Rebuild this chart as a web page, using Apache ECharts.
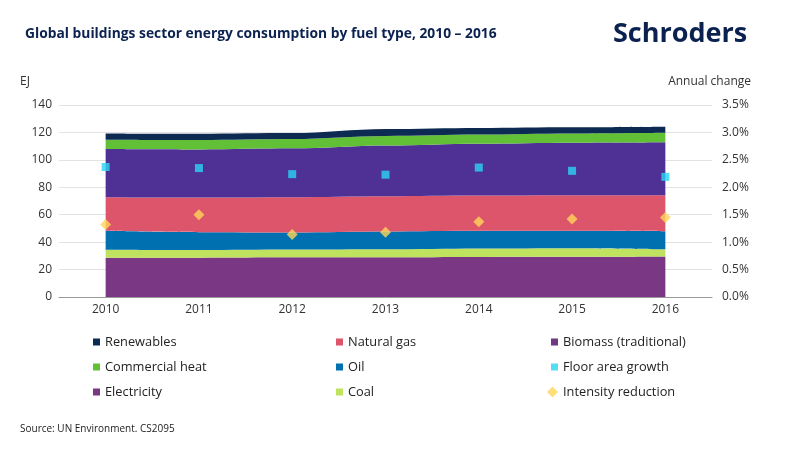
<!DOCTYPE html>
<html>
<head>
<meta charset="utf-8">
<title>Global buildings sector energy consumption</title>
<script src="https://cdn.jsdelivr.net/npm/echarts@6/dist/echarts.min.js"></script>
<style>
  html, body { margin: 0; padding: 0; background: #fff; }
  #main { width: 795px; height: 467px; }
</style>
</head>
<body>
<div id="main"></div>
<script>
// data (EJ, stacked bottom to top)
var years = ['2010', '2011', '2012', '2013', '2014', '2015', '2016'];
var electricity = [28.6, 28.7, 28.9, 29.0, 29.2, 29.3, 29.5];
var coal        = [5.8, 5.5, 5.7, 5.8, 6.2, 6.3, 5.3];
var oil         = [13.9, 13.1, 12.5, 13.0, 12.9, 12.7, 13.2];
var naturalGas  = [24.5, 25.2, 25.7, 25.7, 25.7, 25.9, 26.2];
var biomass     = [35.1, 35.1, 35.6, 37.0, 37.8, 38.3, 38.6];
var heat        = [6.8, 6.9, 6.8, 6.9, 6.6, 6.7, 6.9];
var renewables  = [4.6, 4.5, 4.3, 5.1, 4.9, 4.6, 4.5];
// annual change, %
var floorGrowth = [2.37, 2.35, 2.24, 2.23, 2.36, 2.30, 2.19];
var intensity   = [1.32, 1.50, 1.14, 1.18, 1.37, 1.42, 1.45];
var leftTicks = [0, 140, 20];
var rightTicks = [0, 3.5, 0.5];

var navy = '#0b2150';
var font = '"Open Sans", "Noto Sans", sans-serif';

function band(name, data, color, legendColor) {
  return {
    name: name,
    type: 'line',
    stack: 'fuel',
    data: data,
    smooth: 0.35,
    smoothMonotone: 'x',
    symbol: 'none',
    lineStyle: { width: 0 },
    itemStyle: { color: legendColor || color },
    areaStyle: { color: color, opacity: 1 },
    emphasis: { disabled: true }
  };
}

var legendText = { color: '#222', fontSize: 12.8, fontFamily: font, lineHeight: 14 };
function legendCol(left, top, names, w) {
  return {
    orient: 'vertical',
    left: left,
    top: top,
    itemWidth: w || 7,
    itemHeight: w || 7,
    itemGap: 11,
    selectedMode: false,
    textStyle: legendText,
    data: names
  };
}

var chart = echarts.init(document.getElementById('main'));
chart.setOption({
  animation: false,
  backgroundColor: '#fff',
  textStyle: { fontFamily: font },
  title: {
    text: 'Global buildings sector energy consumption by fuel type, 2010 \u2013 2016',
    left: 20,
    top: 22,
    textStyle: { color: navy, fontSize: 13.8, fontWeight: 'bold', fontFamily: font }
  },
  graphic: [
    { type: 'text', left: 613, top: 21, style: { text: 'Schroders', fill: navy, font: 'bold 27px ' + font } },
    { type: 'text', left: 20, top: 76, style: { text: 'EJ', fill: '#333', font: '12px ' + font } },
    { type: 'text', right: 44, top: 76, style: { text: 'Annual change', fill: '#333', font: '12px ' + font } },
    { type: 'text', left: 20, top: 424, style: { text: 'Source: UN Environment. CS2095', fill: '#222', font: '10px ' + font } }
  ],
  legend: [
    legendCol(88, 330, [
      { name: 'Renewables', icon: 'rect' },
      { name: 'Commercial heat', icon: 'rect' },
      { name: 'Electricity', icon: 'rect' }
    ]),
    legendCol(331, 330, [
      { name: 'Natural gas', icon: 'rect' },
      { name: 'Oil', icon: 'rect' },
      { name: 'Coal', icon: 'rect' }
    ]),
    legendCol(546, 330, [
      { name: 'Biomass (traditional)', icon: 'rect' },
      { name: 'Floor area growth', icon: 'rect' }
    ]),
    legendCol(542, 380, [
      { name: 'Intensity reduction', icon: 'diamond' }
    ], 11)
  ],
  grid: { left: 59, right: 83, top: 105, bottom: 170 },
  xAxis: {
    type: 'category',
    boundaryGap: true,
    data: years,
    axisTick: { show: false },
    axisLine: { lineStyle: { color: '#999' } },
    axisLabel: { color: '#333', fontSize: 12, margin: 7 }
  },
  yAxis: [
    {
      type: 'value',
      min: leftTicks[0], max: leftTicks[1], interval: leftTicks[2],
      axisLine: { show: false },
      axisTick: { show: false },
      axisLabel: { color: '#333', fontSize: 12, margin: 7 },
      splitLine: { lineStyle: { color: '#e2e2e2' } }
    },
    {
      type: 'value',
      min: rightTicks[0], max: rightTicks[1], interval: rightTicks[2],
      axisLine: { show: false },
      axisTick: { show: false },
      splitLine: { show: false },
      axisLabel: {
        color: '#333', fontSize: 12, margin: 10,
        formatter: function (v) { return v.toFixed(1) + '%'; }
      }
    }
  ],
  series: [
    band('Electricity', electricity, '#7a3784'),
    band('Coal', coal, '#bfe35f'),
    band('Oil', oil, '#0070b0'),
    band('Natural gas', naturalGas, '#dd556b'),
    band('Biomass (traditional)', biomass, '#4f3196', '#6b3a82'),
    band('Commercial heat', heat, '#62c036'),
    band('Renewables', renewables, '#0c2a52'),
    {
      name: 'Floor area growth',
      type: 'scatter',
      yAxisIndex: 1,
      data: floorGrowth,
      symbol: 'rect',
      symbolSize: 8,
      itemStyle: { color: '#29d6f2' },
      z: 5
    },
    {
      name: 'Intensity reduction',
      type: 'scatter',
      yAxisIndex: 1,
      data: intensity,
      symbol: 'diamond',
      symbolSize: 11,
      itemStyle: { color: '#ffd65a' },
      z: 5
    }
  ]
});
</script>
</body>
</html>
